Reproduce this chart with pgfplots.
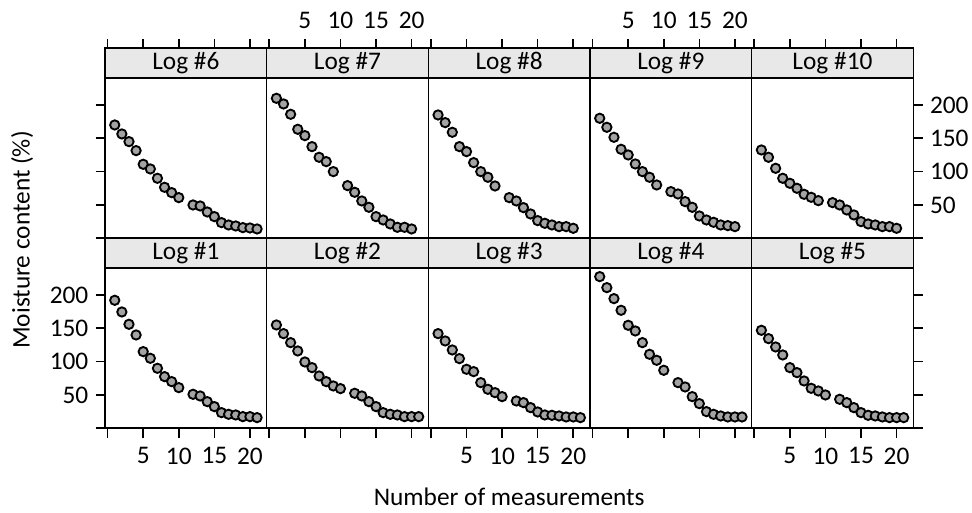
\documentclass[border=0pt]{standalone}
\usepackage{fontspec}
\setmainfont{Carlito}
\usepackage{pgfplots}
\pgfplotsset{compat=1.18}
\definecolor{stripgray}{RGB}{232,232,232}
\definecolor{ptgray}{RGB}{163,163,163}
\newcommand{\lab}{\fontsize{19}{22}\selectfont}
\pgfplotsset{
  panel/.style={
    scale only axis, width=121.245pt, height=142.5pt, anchor=south west,
    xmin=-0.37, xmax=22.35, ymin=0, ymax=285,
    axis line style={line width=1.2pt},
    every tick/.style={black, line width=1.2pt},
    major tick length=7pt, tick align=outside,
    xtick={0,5,10,15,20}, xticklabels={,5,10,15,20},
    ytick={0,50,100,150,200}, yticklabels={,50,100,150,200},
    /pgf/number format/assume math mode=true,
    tick label style={font=\lab},
    xticklabel shift=4pt, yticklabel shift=2pt,
    clip=false,
  },
  noxt/.style={xtick=\empty},
  noyt/.style={ytick=\empty},
  nox/.style={xticklabels={,,,,}},
  noy/.style={yticklabels={,,,,}},
  pts/.style={only marks, mark=*, mark size=3.5pt, mark options={fill=ptgray, draw=black, line width=1.4pt}},
}
\newcommand{\strip}[1]{%
  \draw[line width=1.2pt, fill=stripgray] (rel axis cs:0,0.84474) rectangle (rel axis cs:1,1);
  \node[font=\lab] at (rel axis cs:0.5,0.92237) {#1};}
\begin{document}
\begin{tikzpicture}
\path[use as bounding box] (0,0) rectangle (729pt,384.75pt);
% ---------- top row ----------
\begin{axis}[panel, at={(78.75pt,206.025pt)}, xtick pos=upper, xticklabel pos=upper, nox, ytick pos=left, noy]
\addplot[pts] coordinates {(1,170)(2,156.5)(3,145)(4,131.5)(5,111)(6,104)(7,90)(8,76.5)(9,68.5)(10,61)(12,50)(13,48.5)(14,39.5)(15,32.5)(16,23.5)(17,20)(18,18.5)(19,16)(20,15.5)(21,14)};
\strip{Log \#6}
\end{axis}
\begin{axis}[panel, at={(199.995pt,206.025pt)}, xtick pos=upper, xticklabel pos=upper, noyt]
\addplot[pts] coordinates {(1,210)(2,201.5)(3,186)(4,163.5)(5,154)(6,137.5)(7,121.5)(8,115)(9,100)(11,79)(12,69)(13,56)(14,46.5)(15,32.5)(16,27.5)(17,21.5)(18,16.5)(19,16.5)(20,14)};
\strip{Log \#7}
\end{axis}
\begin{axis}[panel, at={(321.24pt,206.025pt)}, xtick pos=upper, xticklabel pos=upper, nox, noyt]
\addplot[pts] coordinates {(1,185)(2,173.5)(3,159)(4,137.5)(5,130)(6,113.5)(7,100)(8,91.5)(9,78.5)(11,61)(12,56)(13,46)(14,36.5)(15,26.5)(16,22.5)(17,20)(18,17.5)(19,17.5)(20,15)};
\strip{Log \#8}
\end{axis}
\begin{axis}[panel, at={(442.485pt,206.025pt)}, xtick pos=upper, xticklabel pos=upper, noyt]
\addplot[pts] coordinates {(1,180)(2,166.5)(3,151.5)(4,133.5)(5,125)(6,111.5)(7,100)(8,91.5)(9,80)(11,70)(12,66.5)(13,55)(14,46.5)(15,33.5)(16,27.5)(17,24)(18,20)(19,19)(20,17.5)};
\strip{Log \#9}
\end{axis}
\begin{axis}[panel, at={(563.73pt,206.025pt)}, xtick pos=upper, xticklabel pos=upper, nox, ytick pos=right, yticklabel pos=right]
\addplot[pts] coordinates {(1,132.5)(2,121.5)(3,105)(4,90)(5,82.5)(6,75)(7,66)(8,61.5)(9,56.5)(11,53.5)(12,50)(13,42.5)(14,35)(15,25)(16,21.5)(17,20)(18,17.5)(19,17.5)(20,15)};
\strip{Log \#10}
\end{axis}
% ---------- bottom row ----------
\begin{axis}[panel, at={(78.75pt,63.525pt)}, xtick pos=lower, xticklabel pos=lower, ytick pos=left, yticklabel pos=left]
\addplot[pts] coordinates {(1,192)(2,174.5)(3,156)(4,140)(5,115)(6,105)(7,90)(8,77.5)(9,70)(10,61)(12,51)(13,48.5)(14,40)(15,32.5)(16,23.5)(17,21)(18,20)(19,17.5)(20,17.5)(21,16)};
\strip{Log \#1}
\end{axis}
\begin{axis}[panel, at={(199.995pt,63.525pt)}, xtick pos=lower, xticklabel pos=lower, nox, noyt]
\addplot[pts] coordinates {(1,155)(2,142)(3,128.5)(4,116)(5,99.5)(6,91)(7,78.5)(8,70)(9,63.5)(10,59.5)(12,52.5)(13,48.5)(14,40)(15,32.5)(16,23.5)(17,21)(18,20)(19,17.5)(20,17.5)(21,17.5)};
\strip{Log \#2}
\end{axis}
\begin{axis}[panel, at={(321.24pt,63.525pt)}, xtick pos=lower, xticklabel pos=lower, noyt]
\addplot[pts] coordinates {(1,142)(2,131)(3,117.5)(4,104.5)(5,88.5)(6,85)(7,68.5)(8,58.5)(9,53.5)(10,47.5)(12,41)(13,38.5)(14,31)(15,24.5)(16,20)(17,19.5)(18,18.5)(19,17)(20,17)(21,16)};
\strip{Log \#3}
\end{axis}
\begin{axis}[panel, at={(442.485pt,63.525pt)}, xtick pos=lower, xticklabel pos=lower, nox, noyt]
\addplot[pts] coordinates {(1,227.5)(2,211)(3,194.5)(4,177)(5,154.5)(6,146)(7,128.5)(8,111)(9,102)(10,87)(12,68.5)(13,62)(14,47.5)(15,37)(16,25)(17,21)(18,18.5)(19,17)(20,17)(21,17)};
\strip{Log \#4}
\end{axis}
\begin{axis}[panel, at={(563.73pt,63.525pt)}, xtick pos=lower, xticklabel pos=lower, ytick pos=right, yticklabel pos=right, noy]
\addplot[pts] coordinates {(1,147)(2,134.5)(3,122)(4,110)(5,91)(6,83.5)(7,71)(8,60)(9,56)(10,50)(12,43.5)(13,38.5)(14,31)(15,23.5)(16,19.5)(17,18.5)(18,17)(19,16)(20,16)(21,16)};
\strip{Log \#5}
\end{axis}
% ---------- axis titles ----------
\node[font=\lab] at (381.9pt,12pt) {Number of measurements};
\node[font=\lab, rotate=90] at (16.5pt,204.75pt) {Moisture content (\%)};
\end{tikzpicture}
\end{document}
